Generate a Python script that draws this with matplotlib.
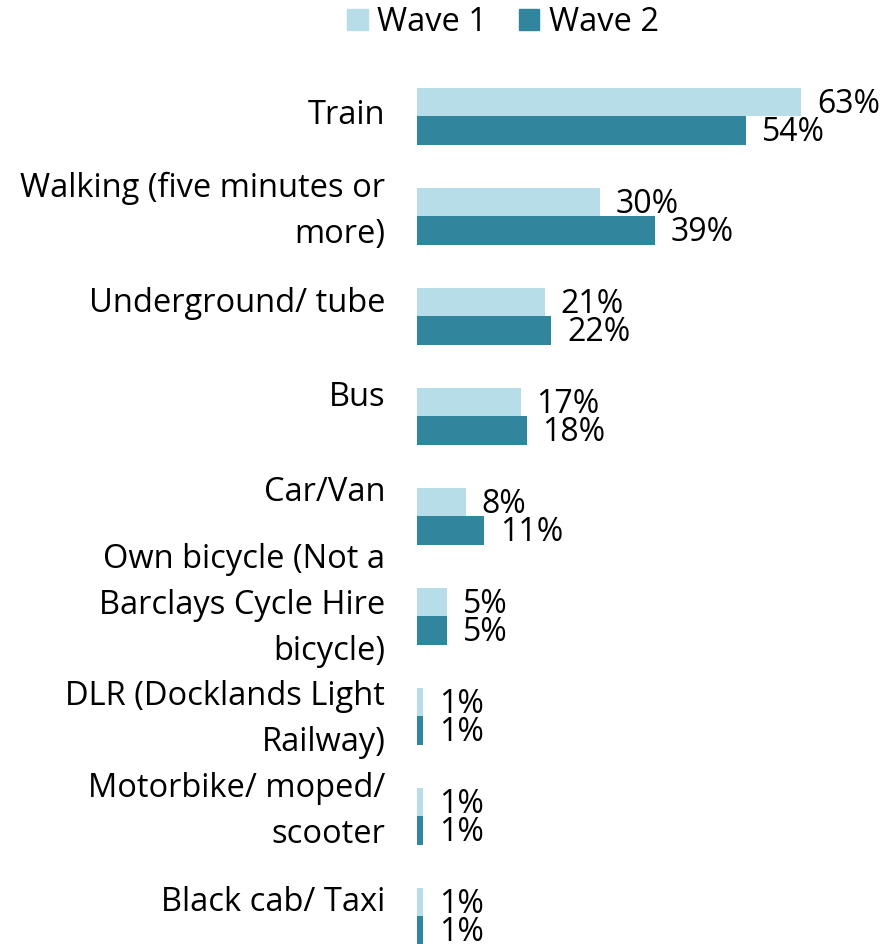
import numpy as np
import matplotlib.pyplot as plt
from matplotlib.patches import Patch

# -----------------------------
# Data
# -----------------------------
categories = [
    "Train",
    "Walking (five minutes or\nmore)",
    "Underground/ tube",
    "Bus",
    "Car/Van",
    "Own bicycle (Not a\nBarclays Cycle Hire\nbicycle)",
    "DLR (Docklands Light\nRailway)",
    "Motorbike/ moped/\nscooter",
    "Black cab/ Taxi",
]
wave1 = [63, 30, 21, 17, 8, 5, 1, 1, 1]
wave2 = [54, 39, 22, 18, 11, 5, 1, 1, 1]

# small vertical nudges for the category labels (row units, negative = up)
label_nudge = [-0.01, -0.05, -0.12, -0.18, -0.24, -0.11, 0.03, -0.05, -0.14]

light = "#B7DDE8"
dark = "#31859C"

plt.rcParams["font.family"] = ["Open Sans", "DejaVu Sans"]

W, H = 893, 944
fig = plt.figure(figsize=(W / 100, H / 100), dpi=100)
ax = fig.add_axes([417 / W, 0, 1 - 417 / W, 878 / H])

y = np.arange(len(categories))
bh = 0.285
ax.barh(y - bh / 2, wave1, height=bh, color=light)
ax.barh(y + bh / 2, wave2, height=bh, color=dark)

ax.set_xlim(0, 78.1)
ax.set_ylim(8.28, -0.5)
ax.axis("off")

pad = 2.6
for i in range(len(categories)):
    ax.text(wave1[i] + pad, y[i] - bh / 2 + 0.03, f"{wave1[i]}%", va="center",
            ha="left", fontsize=23, color="black")
    ax.text(wave2[i] + pad, y[i] + bh / 2 + 0.02, f"{wave2[i]}%", va="center",
            ha="left", fontsize=23, color="black")
    ax.text(-5.2, y[i] + label_nudge[i], categories[i], va="center", ha="right",
            fontsize=23.5, color="black", linespacing=1.52)

handles = [Patch(color=light, label="Wave 1"), Patch(color=dark, label="Wave 2")]
fig.legend(handles=handles, loc="upper center", bbox_to_anchor=(503 / W, 1.025),
           ncol=2, frameon=False, fontsize=23.5, handlelength=0.64, handleheight=0.64,
           handletextpad=0.3, columnspacing=0.95)

fig.savefig("out.png", dpi=100)
